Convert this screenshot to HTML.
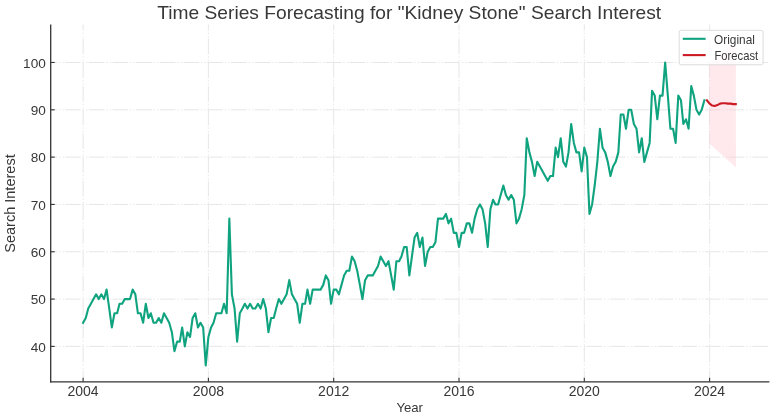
<!DOCTYPE html>
<html><head><meta charset="utf-8"><style>
html,body{margin:0;padding:0;background:#fff;width:780px;height:419px;overflow:hidden}
svg{display:block;will-change:transform;font-family:"Liberation Sans",sans-serif}
</style></head><body>
<svg width="780" height="419" viewBox="0 0 780 419">
<rect width="780" height="419" fill="#fff"/>
<line x1="50.7" y1="346.4" x2="769.4" y2="346.4" stroke="#e0e0e0" stroke-width="0.8" stroke-dasharray="15.5 2 1.3 2.3 1.3 1.3" stroke-dashoffset="9.3"/>
<line x1="50.7" y1="299.08" x2="769.4" y2="299.08" stroke="#e0e0e0" stroke-width="0.8" stroke-dasharray="15.5 2 1.3 2.3 1.3 1.3" stroke-dashoffset="9.3"/>
<line x1="50.7" y1="251.76" x2="769.4" y2="251.76" stroke="#e0e0e0" stroke-width="0.8" stroke-dasharray="15.5 2 1.3 2.3 1.3 1.3" stroke-dashoffset="9.3"/>
<line x1="50.7" y1="204.44" x2="769.4" y2="204.44" stroke="#e0e0e0" stroke-width="0.8" stroke-dasharray="15.5 2 1.3 2.3 1.3 1.3" stroke-dashoffset="9.3"/>
<line x1="50.7" y1="157.12" x2="769.4" y2="157.12" stroke="#e0e0e0" stroke-width="0.8" stroke-dasharray="15.5 2 1.3 2.3 1.3 1.3" stroke-dashoffset="9.3"/>
<line x1="50.7" y1="109.8" x2="769.4" y2="109.8" stroke="#e0e0e0" stroke-width="0.8" stroke-dasharray="15.5 2 1.3 2.3 1.3 1.3" stroke-dashoffset="9.3"/>
<line x1="50.7" y1="62.48" x2="769.4" y2="62.48" stroke="#e0e0e0" stroke-width="0.8" stroke-dasharray="15.5 2 1.3 2.3 1.3 1.3" stroke-dashoffset="9.3"/>
<line x1="83.1" y1="24.4" x2="83.1" y2="381.8" stroke="#e0e0e0" stroke-width="0.8" stroke-dasharray="15.5 2 1.3 2.3 1.3 1.3" stroke-dashoffset="9.3"/>
<line x1="208.4" y1="24.4" x2="208.4" y2="381.8" stroke="#e0e0e0" stroke-width="0.8" stroke-dasharray="15.5 2 1.3 2.3 1.3 1.3" stroke-dashoffset="9.3"/>
<line x1="333.7" y1="24.4" x2="333.7" y2="381.8" stroke="#e0e0e0" stroke-width="0.8" stroke-dasharray="15.5 2 1.3 2.3 1.3 1.3" stroke-dashoffset="9.3"/>
<line x1="459" y1="24.4" x2="459" y2="381.8" stroke="#e0e0e0" stroke-width="0.8" stroke-dasharray="15.5 2 1.3 2.3 1.3 1.3" stroke-dashoffset="9.3"/>
<line x1="584.3" y1="24.4" x2="584.3" y2="381.8" stroke="#e0e0e0" stroke-width="0.8" stroke-dasharray="15.5 2 1.3 2.3 1.3 1.3" stroke-dashoffset="9.3"/>
<line x1="709.6" y1="24.4" x2="709.6" y2="381.8" stroke="#e0e0e0" stroke-width="0.8" stroke-dasharray="15.5 2 1.3 2.3 1.3 1.3" stroke-dashoffset="9.3"/>
<polygon points="709.4,63.9 735.9,41 735.9,167.5 709.4,143.5" fill="#ffc0cb" fill-opacity="0.35"/>
<polyline points="83.1,322.74 85.76,318.01 88.25,308.54 90.9,303.81 93.48,299.08 96.14,294.35 98.71,299.08 101.37,294.35 104.03,299.08 106.6,289.62 109.26,308.54 111.83,327.47 114.49,313.28 117.15,313.28 119.55,303.81 122.21,303.81 124.78,299.08 127.44,299.08 130.01,299.08 132.67,289.62 135.33,294.35 137.9,313.28 140.56,313.28 143.13,322.74 145.79,303.81 148.45,318.01 150.85,313.28 153.51,322.74 156.08,322.74 158.74,318.01 161.32,322.74 163.97,313.28 166.63,318.01 169.21,322.74 171.86,332.2 174.44,351.13 177.1,341.67 179.76,341.67 182.16,327.47 184.82,346.4 187.39,332.2 190.05,336.94 192.62,318.01 195.28,313.28 197.94,327.47 200.51,322.74 203.17,327.47 205.74,365.33 208.4,336.94 211.06,327.47 213.55,322.74 216.2,313.28 218.78,313.28 221.44,313.28 224.01,303.81 226.67,313.28 229.33,218.64 231.9,294.35 234.56,308.54 237.13,341.67 239.79,313.28 242.45,308.54 244.85,303.81 247.51,308.54 250.08,303.81 252.74,308.54 255.31,308.54 257.97,303.81 260.63,308.54 263.2,299.08 265.86,308.54 268.43,332.2 271.09,318.01 273.75,318.01 276.15,308.54 278.81,299.08 281.38,303.81 284.04,299.08 286.62,294.35 289.27,280.15 291.93,294.35 294.51,299.08 297.16,303.81 299.74,322.74 302.4,303.81 305.06,303.81 307.46,289.62 310.12,303.81 312.69,289.62 315.35,289.62 317.92,289.62 320.58,289.62 323.24,284.88 325.81,275.42 328.47,280.15 331.04,303.81 333.7,289.62 336.36,289.62 338.85,294.35 341.5,284.88 344.08,275.42 346.74,270.69 349.31,270.69 351.97,256.49 354.63,261.22 357.2,270.69 359.86,284.88 362.43,299.08 365.09,280.15 367.75,275.42 370.15,275.42 372.81,275.42 375.38,270.69 378.04,265.96 380.61,256.49 383.27,261.22 385.93,265.96 388.5,261.22 391.16,275.42 393.73,289.62 396.39,261.22 399.05,261.22 401.45,256.49 404.11,247.03 406.68,247.03 409.34,275.42 411.92,256.49 414.57,237.56 417.23,232.83 419.81,247.03 422.46,237.56 425.04,265.96 427.7,251.76 430.36,247.03 432.76,247.03 435.42,242.3 437.99,218.64 440.65,218.64 443.22,218.64 445.88,213.9 448.54,223.37 451.11,218.64 453.77,232.83 456.34,232.83 459,247.03 461.66,232.83 464.15,232.83 466.8,223.37 469.38,223.37 472.04,232.83 474.61,218.64 477.27,209.17 479.93,204.44 482.5,209.17 485.16,223.37 487.73,247.03 490.39,209.17 493.05,199.71 495.45,204.44 498.11,204.44 500.68,194.98 503.34,185.51 505.91,194.98 508.57,199.71 511.23,194.98 513.8,199.71 516.46,223.37 519.03,218.64 521.69,209.17 524.35,194.98 526.75,138.19 529.41,152.39 531.98,161.85 534.64,176.05 537.22,161.85 539.87,166.58 542.53,171.32 545.11,176.05 547.76,180.78 550.34,176.05 553,176.05 555.66,147.66 558.06,157.12 560.72,138.19 563.29,161.85 565.95,166.58 568.52,152.39 571.18,124 573.84,142.92 576.41,152.39 579.07,152.39 581.64,171.32 584.3,147.66 586.96,157.12 589.45,213.9 592.1,204.44 594.68,185.51 597.34,161.85 599.91,128.73 602.57,147.66 605.23,152.39 607.8,161.85 610.46,176.05 613.03,166.58 615.69,161.85 618.35,152.39 620.75,114.53 623.41,114.53 625.98,128.73 628.64,109.8 631.21,109.8 633.87,124 636.53,128.73 639.1,152.39 641.76,138.19 644.33,161.85 646.99,152.39 649.65,142.92 652.05,90.87 654.71,95.6 657.28,119.26 659.94,95.6 662.52,95.6 665.17,62.48 667.83,95.6 670.41,128.73 673.06,128.73 675.64,142.92 678.3,95.6 680.96,100.34 683.36,124 686.02,119.26 688.59,128.73 691.25,86.14 693.82,95.6 696.48,109.8 699.14,114.53 701.71,109.8 704.37,100.34" fill="none" stroke="#10a37f" stroke-width="2.1" stroke-linejoin="round" stroke-linecap="square"/>
<polyline points="706.94,100.34 709.6,103.65 712.26,105.54 714.75,106.01 717.4,105.07 719.98,103.65 722.64,103.18 725.21,103.18 727.87,103.65 730.53,103.65 733.1,104.12 735.76,104.12" fill="none" stroke="#cc1a24" stroke-width="2.1" stroke-linejoin="round" stroke-linecap="square"/>
<line x1="50.7" y1="24.4" x2="50.7" y2="382.40000000000003" stroke="#333" stroke-width="1.3"/>
<line x1="50.1" y1="381.8" x2="769.4" y2="381.8" stroke="#333" stroke-width="1.3"/>
<line x1="50.7" y1="346.4" x2="54.7" y2="346.4" stroke="#333" stroke-width="1.1"/>
<text x="45.8" y="351.7" text-anchor="end" font-size="13.6" fill="#383838">40</text>
<line x1="50.7" y1="299.08" x2="54.7" y2="299.08" stroke="#333" stroke-width="1.1"/>
<text x="45.8" y="304.38" text-anchor="end" font-size="13.6" fill="#383838">50</text>
<line x1="50.7" y1="251.76" x2="54.7" y2="251.76" stroke="#333" stroke-width="1.1"/>
<text x="45.8" y="257.06" text-anchor="end" font-size="13.6" fill="#383838">60</text>
<line x1="50.7" y1="204.44" x2="54.7" y2="204.44" stroke="#333" stroke-width="1.1"/>
<text x="45.8" y="209.74" text-anchor="end" font-size="13.6" fill="#383838">70</text>
<line x1="50.7" y1="157.12" x2="54.7" y2="157.12" stroke="#333" stroke-width="1.1"/>
<text x="45.8" y="162.42" text-anchor="end" font-size="13.6" fill="#383838">80</text>
<line x1="50.7" y1="109.8" x2="54.7" y2="109.8" stroke="#333" stroke-width="1.1"/>
<text x="45.8" y="115.1" text-anchor="end" font-size="13.6" fill="#383838">90</text>
<line x1="50.7" y1="62.48" x2="54.7" y2="62.48" stroke="#333" stroke-width="1.1"/>
<text x="45.8" y="67.78" text-anchor="end" font-size="13.6" fill="#383838">100</text>
<line x1="83.1" y1="381.8" x2="83.1" y2="377.8" stroke="#333" stroke-width="1.1"/>
<text x="83.1" y="396" text-anchor="middle" font-size="14" fill="#383838">2004</text>
<line x1="208.4" y1="381.8" x2="208.4" y2="377.8" stroke="#333" stroke-width="1.1"/>
<text x="208.4" y="396" text-anchor="middle" font-size="14" fill="#383838">2008</text>
<line x1="333.7" y1="381.8" x2="333.7" y2="377.8" stroke="#333" stroke-width="1.1"/>
<text x="333.7" y="396" text-anchor="middle" font-size="14" fill="#383838">2012</text>
<line x1="459" y1="381.8" x2="459" y2="377.8" stroke="#333" stroke-width="1.1"/>
<text x="459" y="396" text-anchor="middle" font-size="14" fill="#383838">2016</text>
<line x1="584.3" y1="381.8" x2="584.3" y2="377.8" stroke="#333" stroke-width="1.1"/>
<text x="584.3" y="396" text-anchor="middle" font-size="14" fill="#383838">2020</text>
<line x1="709.6" y1="381.8" x2="709.6" y2="377.8" stroke="#333" stroke-width="1.1"/>
<text x="709.6" y="396" text-anchor="middle" font-size="14" fill="#383838">2024</text>
<text x="157.2" y="18.7" font-size="18.5" textLength="504" lengthAdjust="spacingAndGlyphs" fill="#383838">Time Series Forecasting for "Kidney Stone" Search Interest</text>
<text x="396.4" y="412.3" font-size="13.6" textLength="26.6" lengthAdjust="spacingAndGlyphs" fill="#383838">Year</text>
<text transform="translate(15.4,252.8) rotate(-90)" x="0" y="0" font-size="13.8" textLength="98.5" lengthAdjust="spacingAndGlyphs" fill="#383838">Search Interest</text>
<rect x="679.2" y="30.3" width="83.9" height="34.5" rx="1.8" ry="1.8" fill="#ffffff" fill-opacity="0.8" stroke="#d8d8d8" stroke-width="0.9"/>
<line x1="683.8" y1="38.8" x2="704.6" y2="38.8" stroke="#10a37f" stroke-width="2.1" stroke-linecap="square"/>
<line x1="683.8" y1="55.1" x2="704.6" y2="55.1" stroke="#cc1a24" stroke-width="2.1" stroke-linecap="square"/>
<text x="714.1" y="44.1" font-size="11.9" textLength="40.8" lengthAdjust="spacingAndGlyphs" fill="#383838">Original</text>
<text x="714.5" y="60" font-size="11.9" textLength="43.6" lengthAdjust="spacingAndGlyphs" fill="#383838">Forecast</text>
</svg>
</body></html>
